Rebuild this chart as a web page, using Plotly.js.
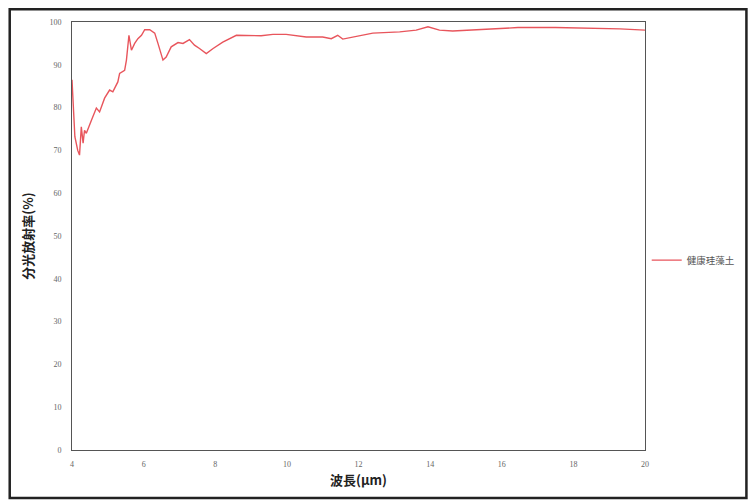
<!DOCTYPE html>
<html>
<head>
<meta charset="utf-8">
<script src="https://cdn.plot.ly/plotly-3.0.1.min.js"></script>
<style>
html,body{margin:0;padding:0;background:#fff;}
#chart{width:755px;height:500px;}
</style>
</head>
<body>
<div id="chart"></div>
<script>
// Wavelength (µm)
const wavelength = [4.0, 4.08, 4.16, 4.21, 4.26, 4.31, 4.35, 4.40, 4.54, 4.68, 4.77, 4.91, 5.05, 5.14, 5.28, 5.33, 5.47, 5.52, 5.59, 5.66, 5.75, 5.84, 5.94, 6.03, 6.17, 6.31, 6.40, 6.54, 6.63, 6.77, 6.96, 7.10, 7.28, 7.42, 7.56, 7.75, 7.94, 8.21, 8.59, 8.87, 9.28, 9.61, 9.98, 10.54, 11.0, 11.24, 11.42, 11.56, 11.84, 12.40, 13.15, 13.61, 13.94, 14.26, 14.63, 15.5, 16.45, 17.5, 18.5, 19.3, 20.0];
// Spectral emissivity (%)
const emissivity = [86.5, 73.2, 70.0, 68.9, 75.5, 71.7, 74.7, 74.0, 77.0, 79.9, 79.0, 82.2, 84.1, 83.7, 86.0, 88.0, 88.7, 91.1, 96.9, 93.4, 95.0, 96.1, 96.9, 98.2, 98.2, 97.4, 95.0, 91.1, 91.8, 94.2, 95.2, 95.0, 95.9, 94.6, 93.8, 92.6, 93.8, 95.3, 96.9, 96.9, 96.8, 97.1, 97.1, 96.5, 96.5, 96.1, 96.9, 96.0, 96.5, 97.4, 97.7, 98.1, 98.9, 98.1, 97.9, 98.3, 98.7, 98.7, 98.6, 98.4, 98.1];
const seriesName = '健康珪藻土';
const xTicks = [4, 6, 8, 10, 12, 14, 16, 18, 20];
const yTicks = [0, 10, 20, 30, 40, 50, 60, 70, 80, 90, 100];

const tickFont = {family: 'Liberation Serif, DejaVu Serif, serif', size: 8, color: '#666'};
const cjk = '"Noto Sans CJK JP", "Noto Sans CJK SC", sans-serif';

const trace = {
  x: wavelength, y: emissivity, name: seriesName, type: 'scatter', mode: 'lines',
  line: {color: '#e8555c', width: 1.4}, showlegend: true
};

const layout = {
  width: 755, height: 500,
  margin: {l: 72, r: 110, t: 22, b: 50, pad: 0, autoexpand: false},
  paper_bgcolor: '#fff', plot_bgcolor: '#fff',
  showlegend: true,
  legend: {x: 1.003, xanchor: 'left', y: 0.4436, yanchor: 'middle',
    font: {family: cjk, size: 9.5, color: '#555'}, bgcolor: 'rgba(0,0,0,0)', itemwidth: 30,
    borderwidth: 0},
  xaxis: {range: [4, 20], tickvals: xTicks, ticktext: xTicks.map(String),
    showgrid: false, zeroline: false, showline: true, mirror: true, linecolor: '#555', linewidth: 1,
    ticks: '', tickfont: tickFont, ticklabelstandoff: 6,
    title: {text: '波長(μm)', font: {family: cjk, size: 13, color: '#222', weight: 'bold'}, standoff: 8}},
  yaxis: {range: [0, 100], tickvals: yTicks, ticktext: yTicks.map(String),
    showgrid: false, zeroline: false, showline: true, mirror: true, linecolor: '#555', linewidth: 1,
    ticks: '', tickfont: tickFont, ticklabelstandoff: 8,
    title: {text: '分光放射率(%)', font: {family: cjk, size: 13, color: '#222', weight: 'bold'}, standoff: 12}},
  shapes: [{type: 'rect', xref: 'paper', yref: 'paper',
    x0: -0.1087, x1: 1.177, y0: -0.112, y1: 1.0297,
    line: {color: '#222', width: 2.5}, fillcolor: 'rgba(0,0,0,0)', layer: 'above'}]
};

Plotly.newPlot('chart', [trace], layout, {displayModeBar: false, staticPlot: true});
</script>
</body>
</html>
